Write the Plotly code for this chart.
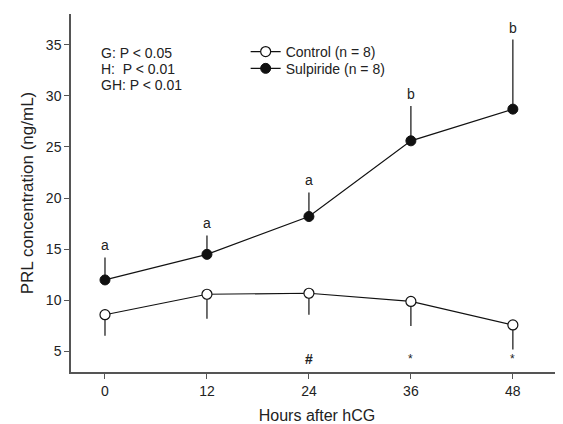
import plotly.graph_objects as go

hours = [0, 12, 24, 36, 48]
control_mean = [8.6, 10.6, 10.7, 9.9, 7.6]
control_sem = [2.05, 2.4, 2.1, 2.4, 2.4]
sulpiride_mean = [12.0, 14.5, 18.2, 25.6, 28.7]
sulpiride_sem = [2.2, 1.85, 2.35, 3.4, 6.8]
sulp_letters = ["a", "a", "a", "b", "b"]
bottom_marks = ["", "", "#", "*", "*"]
stats_lines = ["G: P < 0.05", "H:  P < 0.01", "GH: P < 0.01"]
x_ticks = [0, 12, 24, 36, 48]
y_ticks = [5, 10, 15, 20, 25, 30, 35]

FONT = "Liberation Sans, Arial, sans-serif"
TXT = "#222222"
AX = "#555555"

fig = go.Figure()
fig.add_trace(go.Scatter(
    x=hours, y=control_mean, name="Control (n = 8)", mode="lines+markers",
    line=dict(color="#111111", width=1.2),
    marker=dict(symbol="circle", size=10, color="white", line=dict(color="#111111", width=1.2)),
    error_y=dict(type="data", symmetric=False, array=[0]*5, arrayminus=control_sem,
                 color="#111111", thickness=1.2, width=0),
    legend="legend",
))
fig.add_trace(go.Scatter(
    x=hours, y=sulpiride_mean, name="Sulpiride (n = 8)", mode="lines+markers",
    line=dict(color="#111111", width=1.2),
    marker=dict(symbol="circle", size=10, color="#111111", line=dict(color="#111111", width=1)),
    error_y=dict(type="data", symmetric=False, array=sulpiride_sem, arrayminus=[0]*5,
                 color="#111111", thickness=1.2, width=0),
    legend="legend2",
))

for h, m, s, t in zip(hours, sulpiride_mean, sulpiride_sem, sulp_letters):
    fig.add_annotation(x=h, y=m + s, text=t, showarrow=False, yanchor="bottom", yshift=2,
                       font=dict(family=FONT, size=14, color=TXT))
for h, t in zip(hours, bottom_marks):
    if t:
        fig.add_annotation(x=h, y=4.3, text=("<b>#</b>" if t == "#" else t), showarrow=False,
                           font=dict(family=FONT, size=14 if t == "#" else 12, color=TXT))
for i, t in enumerate(stats_lines):
    fig.add_annotation(x=0.056, y=0.891 - i * 0.0445, xref="paper", yref="paper", text=t,
                       showarrow=False, xanchor="left", yanchor="middle",
                       font=dict(family=FONT, size=14, color=TXT))

legend_style = dict(xanchor="left", yanchor="middle", bgcolor="rgba(0,0,0,0)",
                    font=dict(family=FONT, size=14, color=TXT), itemwidth=30)

# body has an 8px default margin, so the figure is 8px smaller on each axis
fig.update_layout(
    width=555, height=416,
    margin=dict(l=63, r=0, t=6, b=52),
    paper_bgcolor="white", plot_bgcolor="white",
    font=dict(family=FONT, size=14, color=TXT),
    showlegend=True,
    legend=dict(x=0.355, y=0.894, **legend_style),
    legend2=dict(x=0.355, y=0.847, **legend_style),
    xaxis=dict(range=[-4, 53.9], tickvals=x_ticks, ticks="outside", ticklen=5, tickcolor=AX,
               showline=True, linecolor=AX, linewidth=1.5, showgrid=False, zeroline=False,
               title=dict(text="Hours after hCG", font=dict(size=16), standoff=14)),
    yaxis=dict(range=[3, 38], tickvals=y_ticks, ticks="outside", ticklen=5, tickcolor=AX,
               showline=True, linecolor=AX, linewidth=1.5, showgrid=False, zeroline=False,
               title=dict(text="PRL concentration (ng/mL)", font=dict(size=17), standoff=8)),
)

fig.write_html("out.html")
